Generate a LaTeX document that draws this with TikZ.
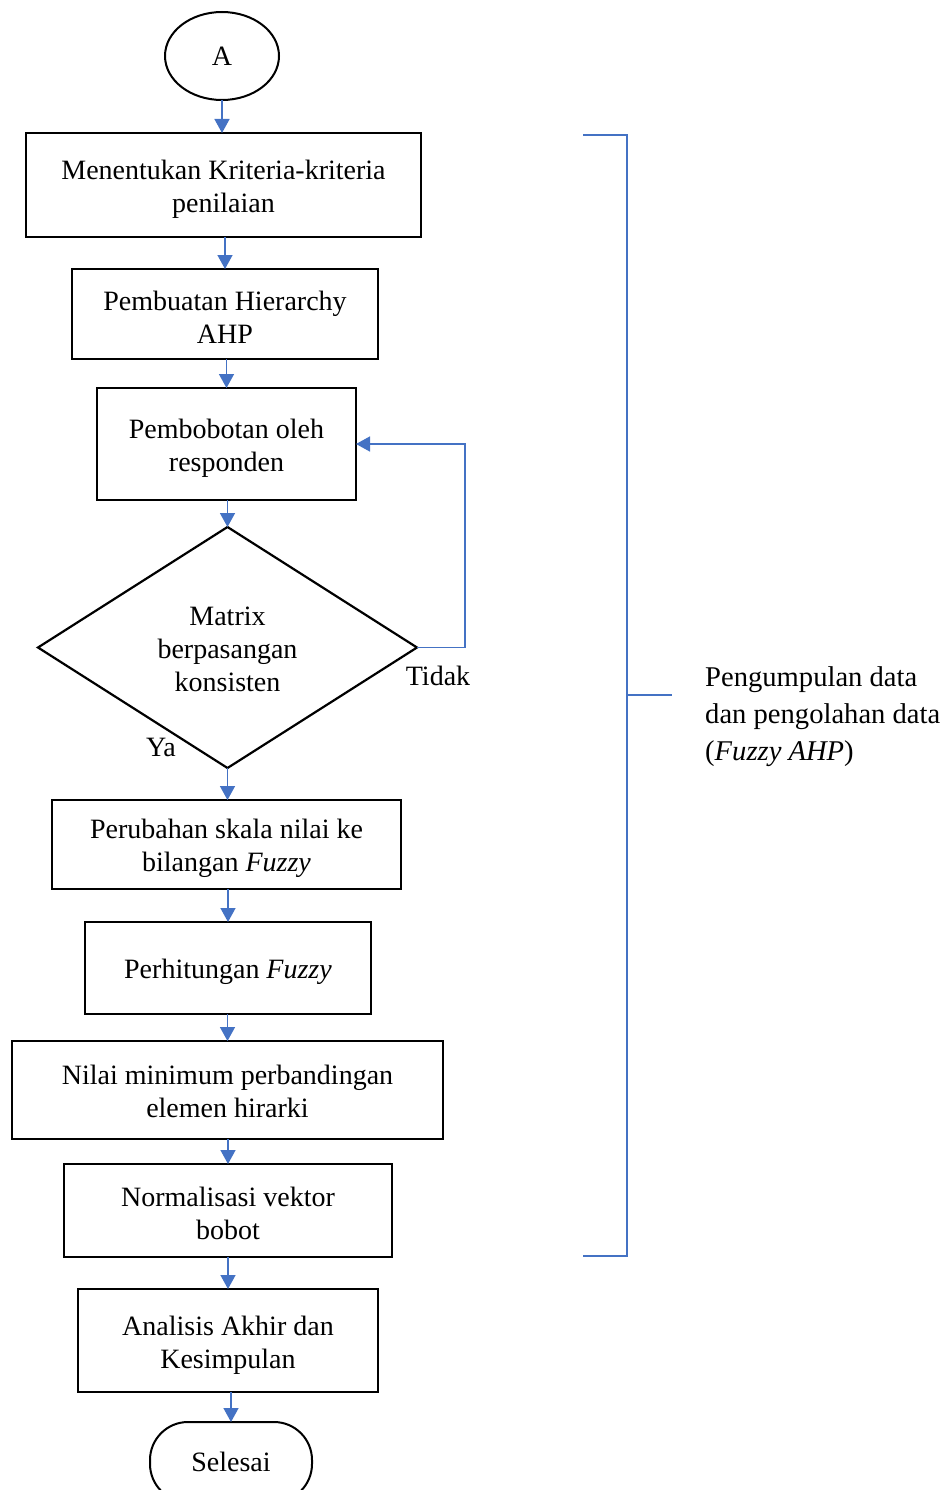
\documentclass[tikz,border=0pt]{standalone}
\usepackage{fontspec}
\setmainfont{Liberation Serif}
\usetikzlibrary{shapes.geometric,arrows.meta}
\definecolor{flowblue}{HTML}{4472C4}
% taller first line pushes a text block slightly below the node centre
\newcommand{\raiseline}[1]{\rule{0pt}{#1}}
\tikzset{
  txt/.style={font=\fontsize{28}{33}\selectfont, align=center},
  stepbox/.style={txt, draw=black, line width=2.2pt, rectangle, inner sep=0pt, outer sep=0pt},
  link/.style={draw=flowblue, line width=1.5pt, -{Triangle[length=14pt,width=15pt]}},
  brace/.style={draw=flowblue, line width=1.4pt},
}
\begin{document}
\begin{tikzpicture}[x=1pt,y=-1pt]
\useasboundingbox (0,0) rectangle (945,1490);
\clip (0,0) rectangle (945,1490);

% start connector
\node[txt, draw=black, line width=2pt, ellipse, minimum width=114pt, minimum height=88pt, inner sep=0pt, outer sep=0pt] (start) at (222,56) {A};

% process steps
\node[stepbox, minimum width=395pt, minimum height=104pt] (b1) at (223.5,185) {\raiseline{27pt}Menentukan Kriteria-kriteria\\penilaian};
\node[stepbox, minimum width=306pt, minimum height=90pt] (b2) at (225,314) {\raiseline{25pt}Pembuatan Hierarchy\\AHP};
\node[stepbox, minimum width=259pt, minimum height=112pt] (b3) at (226.5,444) {\raiseline{27pt}Pembobotan oleh\\responden};

% decision
\node[txt, draw=black, line width=2.2pt, diamond, aspect=1.573, minimum width=379pt, minimum height=241pt, inner sep=0pt, outer sep=0pt] (dec) at (227.5,647.5) {\raiseline{23pt}Matrix\\berpasangan\\konsisten};
\node[txt] (no) at (438,676) {Tidak};
\node[txt] (yes) at (161,747) {Ya};

\node[stepbox, minimum width=349pt, minimum height=89pt] (b4) at (226.5,844.5) {\raiseline{28pt}Perubahan skala nilai ke\\bilangan \textit{Fuzzy}};
\node[stepbox, minimum width=286pt, minimum height=92pt] (b5) at (228,968) {\raiseline{27pt}Perhitungan \textit{Fuzzy}};
\node[stepbox, minimum width=431pt, minimum height=98pt] (b6) at (227.5,1090) {\raiseline{23pt}Nilai minimum perbandingan\\elemen hirarki};
\node[stepbox, minimum width=328pt, minimum height=93pt] (b7) at (228,1210.5) {\raiseline{25pt}Normalisasi vektor\\bobot};
\node[stepbox, minimum width=300pt, minimum height=103pt] (b8) at (228,1340.5) {\raiseline{28pt}Analisis Akhir dan\\Kesimpulan};

% end terminal
\node[txt, draw=black, line width=2pt, rectangle, rounded corners=38pt, minimum width=162pt, minimum height=80pt, inner sep=0pt, outer sep=0pt] (end) at (231,1462) {Selesai};

% connectors
\draw[link] (start.south) -- (start.south |- b1.north);
\draw[link] (b1.south -| b2.north) -- (b2.north);
\draw[link] (b2.south -| b3.north) -- (b3.north);
\draw[link] (b3.south -| dec.north) -- (dec.north);
\draw[link] (dec.south) -- (dec.south |- b4.north);
\draw[link] (b4.south -| b5.north) -- (b5.north);
\draw[link] (b5.south -| b6.north) -- (b6.north);
\draw[link] (b6.south -| b7.north) -- (b7.north);
\draw[link] (b7.south -| b8.north) -- (b8.north);
\draw[link] (b8.south -| end.north) -- (end.north);

% loop back when not consistent
\draw[link] (dec.east) -- ++(48,0) |- (b3.east);

% bracket grouping the data steps
\coordinate (bt) at (583,135);
\coordinate (bb) at (583,1256);
\coordinate (bm) at (627,695);
\draw[brace] (bt) -- (627,135) -- (627,1256) -- (bb);
\draw[brace] (bm) -- ++(45,0) coordinate (bmtip);

\node[font=\fontsize{28.6}{37}\selectfont, align=left, anchor=west, inner sep=0pt] (note) at (705,717) {Pengumpulan data\\dan pengolahan data\\(\textit{Fuzzy AHP})};
\end{tikzpicture}
\end{document}
